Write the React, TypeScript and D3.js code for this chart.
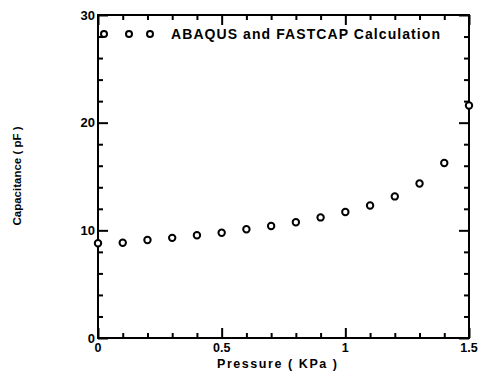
import * as d3 from "d3";
import React, { useEffect, useRef } from "react";

const pressure = [0, 0.1, 0.2, 0.3, 0.4, 0.5, 0.6, 0.7, 0.8, 0.9, 1.0, 1.1, 1.2, 1.3, 1.4, 1.5];
const capacitance = [8.8, 8.85, 9.1, 9.3, 9.55, 9.78, 10.1, 10.4, 10.75, 11.2, 11.7, 12.3, 13.15, 14.35, 16.25, 21.6];
const xTickLabels = [0, 0.5, 1, 1.5];
const xMinorTicks = [0.1, 0.2, 0.3, 0.4, 0.6, 0.7, 0.8, 0.9, 1.1, 1.2, 1.3, 1.4];
const yTickLabels = [0, 10, 20, 30];
const yMinorTicks = [2, 4, 6, 8, 12, 14, 16, 18, 22, 24, 26, 28];
const legendLabel = "ABAQUS and FASTCAP Calculation";

export default function App() {
  const ref = useRef<SVGSVGElement | null>(null);

  useEffect(() => {
    const svg = d3.select(ref.current);
    svg.selectAll("*").remove();

    const left = 98, right = 469, top = 15, bottom = 338;
    const x = d3.scaleLinear().domain([0, 1.5]).range([left, right]);
    const y = d3.scaleLinear().domain([0, 30]).range([bottom, top]);
    const font = "Arial, 'Liberation Sans', sans-serif";

    const g = svg.append("g");

    // inward ticks via d3 axes (labels drawn separately)
    const tickAxis = (axis: any, pos: string, size: number, vals: number[]) => {
      const a = g
        .append("g")
        .attr("transform", pos)
        .call(axis.tickValues(vals).tickSize(size).tickFormat(() => ""));
      a.select(".domain").remove();
      a.selectAll("line").attr("stroke", "#000").attr("stroke-width", 2);
    };
    tickAxis(d3.axisBottom(x), `translate(0,${bottom})`, -10, xTickLabels);
    tickAxis(d3.axisBottom(x), `translate(0,${bottom})`, -5, xMinorTicks);
    tickAxis(d3.axisTop(x), `translate(0,${top})`, -10, xTickLabels);
    tickAxis(d3.axisTop(x), `translate(0,${top})`, -5, xMinorTicks);
    tickAxis(d3.axisLeft(y), `translate(${left},0)`, -10, yTickLabels);
    tickAxis(d3.axisLeft(y), `translate(${left},0)`, -5, yMinorTicks);
    tickAxis(d3.axisRight(y), `translate(${right},0)`, -10, yTickLabels);
    tickAxis(d3.axisRight(y), `translate(${right},0)`, -5, yMinorTicks);

    // frame
    g.append("rect")
      .attr("x", left)
      .attr("y", top)
      .attr("width", right - left)
      .attr("height", bottom - top)
      .attr("fill", "none")
      .attr("stroke", "#000")
      .attr("stroke-width", 2);

    g.selectAll(".xlab")
      .data(xTickLabels)
      .enter()
      .append("text")
      .attr("x", (d) => x(d))
      .attr("y", 352)
      .attr("text-anchor", "middle")
      .attr("font-family", font)
      .attr("font-weight", "bold")
      .attr("font-size", 12.5)
      .text((d) => String(d));

    g.selectAll(".ylab")
      .data(yTickLabels)
      .enter()
      .append("text")
      .attr("x", left - 3)
      .attr("y", (d) => y(d) + 4.5)
      .attr("text-anchor", "end")
      .attr("font-family", font)
      .attr("font-weight", "bold")
      .attr("font-size", 13)
      .text((d) => String(d));

    g.append("text")
      .attr("x", 217)
      .attr("y", 367.5)
      .attr("textLength", 120)
      .attr("font-family", font)
      .attr("font-weight", "bold")
      .attr("font-size", 12.5)
      .text("Pressure ( KPa )");

    g.append("text")
      .attr("transform", `translate(21,176) rotate(-90)`)
      .attr("text-anchor", "middle")
      .attr("font-family", font)
      .attr("font-weight", "bold")
      .attr("font-size", 11.5)
      .text("Capacitance ( pF )");

    // data points
    const pts = pressure.map((p, i) => ({ p, c: capacitance[i] }));
    g.selectAll(".pt")
      .data(pts)
      .enter()
      .append("circle")
      .attr("cx", (d) => x(d.p))
      .attr("cy", (d) => y(d.c))
      .attr("r", 3.2)
      .attr("fill", "#fff")
      .attr("stroke", "#000")
      .attr("stroke-width", 2);

    // legend
    [104, 129, 150].forEach((cx) => {
      g.append("circle")
        .attr("cx", cx)
        .attr("cy", 34)
        .attr("r", 3)
        .attr("fill", "#fff")
        .attr("stroke", "#000")
        .attr("stroke-width", 2);
    });
    g.append("text")
      .attr("x", 171)
      .attr("y", 39)
      .attr("textLength", 269)
      .attr("font-family", font)
      .attr("font-weight", "bold")
      .attr("font-size", 14)
      .text(legendLabel);
  }, []);

  return (
    <svg
      ref={ref}
      width={481}
      height={371}
      style={{ position: "absolute", left: 0, top: 0, background: "#fff" }}
    />
  );
}
